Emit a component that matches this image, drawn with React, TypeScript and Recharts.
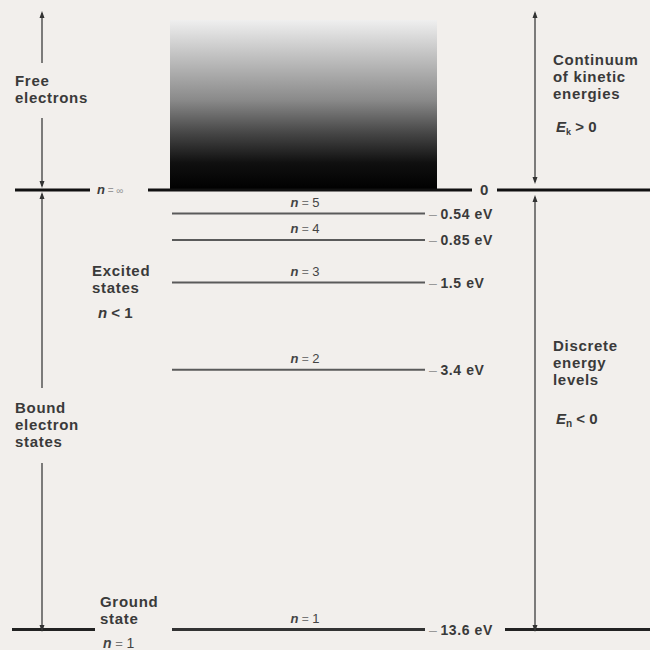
import React from 'react';
import { ComposedChart, XAxis, YAxis, ReferenceLine, ReferenceArea, ReferenceDot } from 'recharts';

// bound levels of the hydrogen atom
const levelN = [1, 2, 3, 4, 5];
const levelEnergy = [-13.6, -3.4, -1.5, -0.85, -0.54];
const levelText = ['13.6 eV', '3.4 eV', '1.5 eV', '0.85 eV', '0.54 eV'];

// ionisation threshold (n = ∞) and the continuum above it
const thresholdEnergy = 0;
const thresholdText = '0';
const continuumTop = 17; // kinetic energy, arbitrary units (no scale in the figure)

const bg = '#f2efec';
const ink = '#3a3a3a';
const font = '"Liberation Sans", Arial, sans-serif';

// horizontal layout, x axis runs 0..650
const levelX = [172, 425];
const blockX = [170, 437];
const zeroSegments = [[15, 90], [148, 472], [497, 650]];
const groundSegments = [[12, 95], [505, 650]];
const nLabelX = 305;
const valueX = 429;

// annotation layout (layout axis, 0 at top)
const arrows = [
  { x: 42, y: [13, 63], up: true, down: false },
  { x: 42, y: [118, 186], up: false, down: true },
  { x: 42, y: [194, 388], up: true, down: false },
  { x: 42, y: [463, 630], up: false, down: true },
  { x: 535, y: [13, 182], up: true, down: true },
  { x: 535, y: [197, 630], up: true, down: true },
];

const notes = [
  { x: 15, y: 86, lines: ['Free', 'electrons'] },
  { x: 553, y: 65, lines: ['Continuum', 'of kinetic', 'energies'] },
  { x: 92, y: 276, lines: ['Excited', 'states'] },
  { x: 15, y: 413, lines: ['Bound', 'electron', 'states'] },
  { x: 553, y: 351, lines: ['Discrete', 'energy', 'levels'] },
  { x: 100, y: 607, lines: ['Ground', 'state'] },
];

const arrowShape = (up: boolean, down: boolean) => (p: any) => {
  const { x1, y1, x2, y2 } = p;
  const top = Math.min(y1, y2);
  const bot = Math.max(y1, y2);
  return (
    <g>
      <line x1={x1} y1={top} x2={x2} y2={bot} stroke="#555" strokeWidth={1.5} />
      {up && <path d={`M${x1},${top - 2} L${x1 - 2.5},${top + 5} L${x1 + 2.5},${top + 5} Z`} fill="#333" />}
      {down && <path d={`M${x1},${bot + 2} L${x1 - 2.5},${bot - 5} L${x1 + 2.5},${bot - 5} Z`} fill="#333" />}
    </g>
  );
};

const nLabel = (n: string, size = 13) => (
  <>
    <tspan fontStyle="italic" fontWeight="bold">n</tspan>
    <tspan fill="#777" fontSize={size - 1}> = </tspan>
    <tspan>{n}</tspan>
  </>
);

export default function App() {
  return (
    <div style={{ position: 'absolute', left: 0, top: 0, width: 650, height: 650, background: bg }}>
      <ComposedChart width={650} height={650} margin={{ top: 0, right: 0, bottom: 0, left: 0 }}>
        <defs>
          <linearGradient id="continuum" x1="0" y1="0" x2="0" y2="1">
            <stop offset="0%" stopColor="#efefef" />
            <stop offset="18%" stopColor="#c8c8c8" />
            <stop offset="47%" stopColor="#8a8a8a" />
            <stop offset="66%" stopColor="#484848" />
            <stop offset="84%" stopColor="#101010" />
            <stop offset="100%" stopColor="#000" />
          </linearGradient>
        </defs>
        <XAxis type="number" dataKey="x" domain={[0, 650]} hide allowDataOverflow />
        <YAxis yAxisId="energy" type="number" scale="sqrt" domain={[-14.69, 0.61]} hide allowDataOverflow />
        <YAxis yAxisId="kinetic" type="number" domain={[-46, 19]} hide allowDataOverflow />
        <YAxis yAxisId="layout" type="number" domain={[0, 650]} reversed hide allowDataOverflow />

        {/* continuum of kinetic energies */}
        <ReferenceArea
          yAxisId="kinetic"
          x1={blockX[0]}
          x2={blockX[1]}
          y1={thresholdEnergy}
          y2={continuumTop}
          fill="url(#continuum)"
          fillOpacity={1}
          stroke="none"
        />

        {/* n = ∞ threshold line */}
        {zeroSegments.map((s, i) => (
          <ReferenceLine
            key={'z' + i}
            yAxisId="kinetic"
            segment={[{ x: s[0], y: thresholdEnergy }, { x: s[1], y: thresholdEnergy }]}
            stroke="#111"
            strokeWidth={3}
          />
        ))}
        <ReferenceDot
          yAxisId="kinetic"
          x={97}
          y={thresholdEnergy}
          r={0}
          shape={(p: any) => (
            <text x={p.cx} y={p.cy + 4} fontFamily={font} fontSize={12} fill={ink}>
              <tspan fontStyle="italic" fontWeight="bold" fontSize={13}>n</tspan>
              <tspan fill="#999" fontSize={10}> = ∞</tspan>
            </text>
          )}
        />
        <ReferenceDot
          yAxisId="kinetic"
          x={480}
          y={thresholdEnergy}
          r={0}
          shape={(p: any) => (
            <text x={p.cx} y={p.cy + 5} fontFamily={font} fontSize={15} fontWeight="bold" fill={ink}>
              {thresholdText}
            </text>
          )}
        />

        {/* bound levels */}
        {levelEnergy.map((e, i) => (
          <ReferenceLine
            key={'l' + i}
            yAxisId="energy"
            segment={[{ x: levelX[0], y: e }, { x: levelX[1], y: e }]}
            stroke={levelN[i] === 1 ? '#333' : '#5a5a5a'}
            strokeWidth={levelN[i] === 1 ? 3 : 2}
          />
        ))}
        {groundSegments.map((s, i) => (
          <ReferenceLine
            key={'g' + i}
            yAxisId="energy"
            segment={[{ x: s[0], y: levelEnergy[0] }, { x: s[1], y: levelEnergy[0] }]}
            stroke="#222"
            strokeWidth={3}
          />
        ))}
        {levelEnergy.map((e, i) => (
          <ReferenceDot
            key={'n' + i}
            yAxisId="energy"
            x={nLabelX}
            y={e}
            r={0}
            shape={(p: any) => (
              <text x={p.cx} y={p.cy - 7} textAnchor="middle" fontFamily={font} fontSize={13} fill="#444">
                {nLabel(String(levelN[i]))}
              </text>
            )}
          />
        ))}
        {levelEnergy.map((e, i) => (
          <ReferenceDot
            key={'v' + i}
            yAxisId="energy"
            x={valueX}
            y={e}
            r={0}
            shape={(p: any) => (
              <text x={p.cx} y={p.cy + 5} fontFamily={font} fontSize={14} fontWeight="bold" fill={ink} letterSpacing={0.6}>
                <tspan fill="#999" fontWeight="normal">–</tspan>
                <tspan dx={3}>{levelText[i]}</tspan>
              </text>
            )}
          />
        ))}

        {/* arrows */}
        {arrows.map((a, i) => (
          <ReferenceLine
            key={'a' + i}
            yAxisId="layout"
            segment={[{ x: a.x, y: a.y[0] }, { x: a.x, y: a.y[1] }]}
            shape={arrowShape(a.up, a.down)}
          />
        ))}

        {/* text notes */}
        {notes.map((nt, i) => (
          <ReferenceDot
            key={'t' + i}
            yAxisId="layout"
            x={nt.x}
            y={nt.y}
            r={0}
            shape={(p: any) => (
              <text fontFamily={font} fontSize={15} fontWeight="bold" fill={ink} letterSpacing={0.7}>
                {nt.lines.map((ln, j) => (
                  <tspan key={j} x={p.cx} y={p.cy + j * 17}>
                    {ln}
                  </tspan>
                ))}
              </text>
            )}
          />
        ))}
        <ReferenceDot
          yAxisId="layout"
          x={556}
          y={132}
          r={0}
          shape={(p: any) => (
            <text x={p.cx} y={p.cy} fontFamily={font} fontSize={15} fontWeight="bold" fill={ink}>
              <tspan fontStyle="italic">E</tspan>
              <tspan fontSize={9} dy={3}>k</tspan>
              <tspan dy={-3}> &gt; 0</tspan>
            </text>
          )}
        />
        <ReferenceDot
          yAxisId="layout"
          x={556}
          y={424}
          r={0}
          shape={(p: any) => (
            <text x={p.cx} y={p.cy} fontFamily={font} fontSize={15} fontWeight="bold" fill={ink}>
              <tspan fontStyle="italic">E</tspan>
              <tspan fontSize={10} dy={3}>n</tspan>
              <tspan dy={-3}> &lt; 0</tspan>
            </text>
          )}
        />
        <ReferenceDot
          yAxisId="layout"
          x={98}
          y={318}
          r={0}
          shape={(p: any) => (
            <text x={p.cx} y={p.cy} fontFamily={font} fontSize={15} fontWeight="bold" fill={ink}>
              <tspan fontStyle="italic">n</tspan>
              <tspan> &lt; 1</tspan>
            </text>
          )}
        />
        <ReferenceDot
          yAxisId="layout"
          x={103}
          y={648}
          r={0}
          shape={(p: any) => (
            <text x={p.cx} y={p.cy} fontFamily={font} fontSize={14} fill="#444">
              {nLabel('1', 14)}
            </text>
          )}
        />
      </ComposedChart>
    </div>
  );
}
